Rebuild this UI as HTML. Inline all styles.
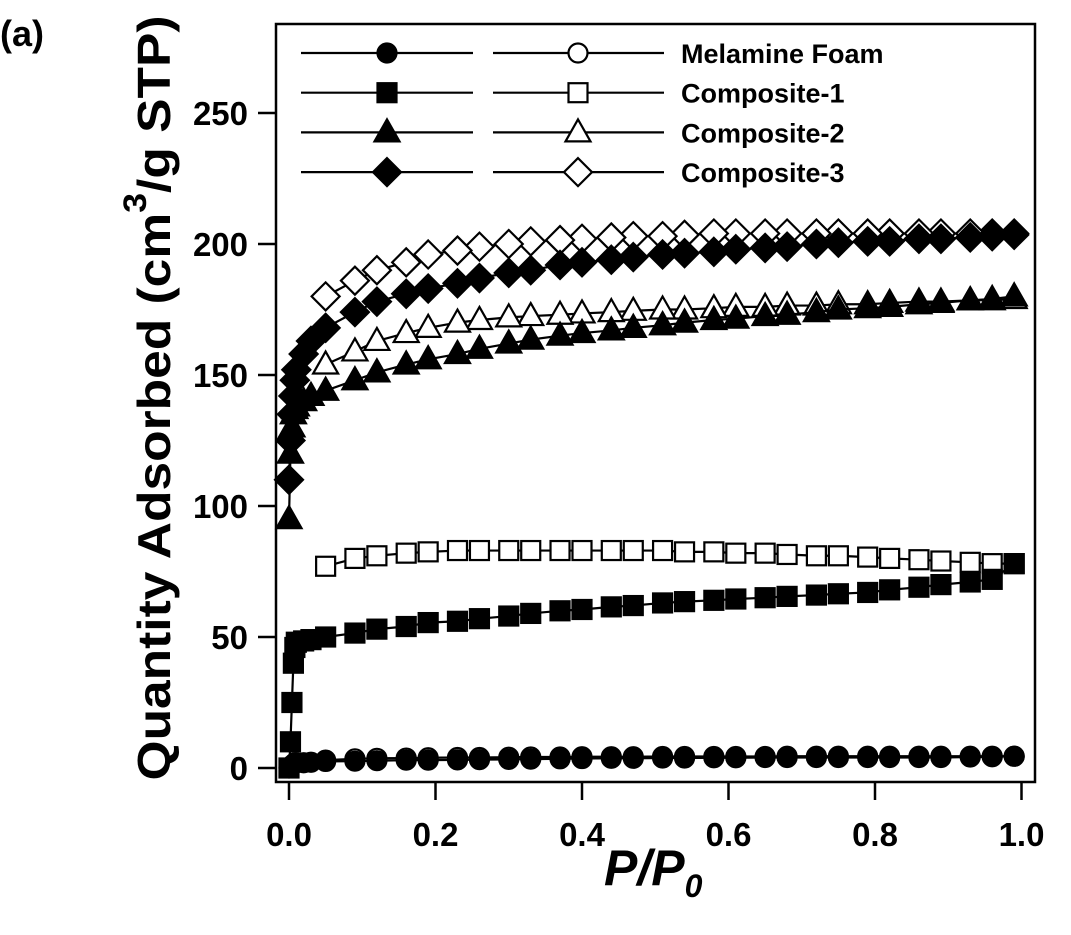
<!DOCTYPE html>
<html><head><meta charset="utf-8"><style>
html,body{margin:0;padding:0;background:#fff}
svg{display:block;font-family:"Liberation Sans",Arial,sans-serif}
</style></head><body>
<svg id="chart" width="1071" height="935" viewBox="0 0 1071 935" xmlns="http://www.w3.org/2000/svg">
<text x="0" y="46" font-size="36" font-weight="bold">(a)</text>
<rect x="276" y="24" width="759" height="758" fill="none" stroke="#000" stroke-width="2.5"/>
<g id="axes"></g>
<g id="series"></g>
<g id="legend"></g>
<text transform="translate(170,398) rotate(-90)" text-anchor="middle" font-size="46" font-weight="bold" textLength="765" lengthAdjust="spacingAndGlyphs">Quantity Adsorbed (cm<tspan dy="-24" font-size="32">3</tspan><tspan dy="24">/g STP)</tspan></text>
<text x="604" y="885" font-size="50" font-weight="bold" font-style="italic">P/P<tspan dy="12" font-size="32">0</tspan></text>
</svg>
<script>
const xTicks=[0,0.2,0.4,0.6,0.8,1.0];
const xTickLabels=["0.0","0.2","0.4","0.6","0.8","1.0"];
const yTicks=[0,50,100,150,200,250];
const yTickLabels=["0","50","100","150","200","250"];
const adsX=[0,0.002,0.004,0.006,0.008,0.01,0.02,0.03,0.05,0.09,0.12,0.16,0.19,0.23,0.26,0.30,0.33,0.37,0.40,0.44,0.47,0.51,0.54,0.58,0.61,0.65,0.68,0.72,0.75,0.79,0.82,0.86,0.89,0.93,0.96,0.99];
const desX=[0.99,0.96,0.93,0.89,0.86,0.82,0.79,0.75,0.72,0.68,0.65,0.61,0.58,0.54,0.51,0.47,0.44,0.40,0.37,0.33,0.30,0.26,0.23,0.19,0.16,0.12,0.09,0.05];
const melAds=[0,0.5,1,1.5,2,2,2,2.2,2.5,2.6,2.8,3,3,3.1,3.2,3.3,3.4,3.5,3.6,3.7,3.7,3.8,3.8,3.9,3.9,4,4,4,4,4,4,4,4,4.2,4.3,4.5];
const melDes=[4.5,4.5,4.5,4.5,4.5,4.5,4.5,4.5,4.5,4.5,4.4,4.4,4.4,4.4,4.4,4.3,4.3,4.3,4.2,4.2,4.1,4,4,3.9,3.8,3.7,3.5,3];
const c1Ads=[0,10,25,40,46,48,48.5,49,50,51.5,53,54,55.5,56,57,58,59,60,60.5,61.5,62,63,63.5,64,64.5,65,65.5,66,66.5,67,68,69,70,71,72,78];
const c1Des=[78,78,78.5,79,79.5,80,80.5,81,81,81.5,82,82,82.5,82.5,83,83,83,83,83,83,83,83,83,82.5,82,81,80,77];
const c2Ads=[95,120,130,135,137,138,140,142,144,148,151,154,156,158,160,162,163.5,165,166,167,168,169,170,171,171.5,172.5,173,174,175,175.5,176,177,177.5,178.5,179,180];
const c2Des=[179,178.5,178.5,178,178,177.5,177,177,176.5,176.5,176,176,175.5,175,175,174.5,174,173.5,173,172.5,172,171,170,168,166,163,159,154];
const c3Ads=[110,125,135,142,148,152,158,163,168,174,178,181,183,185,187,189,190,192,193,194,195,196,196.5,197,198,198.5,199,200,200.5,201,201,202,202,202.5,203,203.5];
const c3Des=[204,204,204,204,204,204,204,204,204,204,204,204,204,203.5,203,203,202.5,202,201.5,201,200,199,197.5,196,193,190,186,180];
const seriesNames=["Melamine Foam","Composite-1","Composite-2","Composite-3"];

const NS="http://www.w3.org/2000/svg";
function X(v){return 289+v*732.5;}
function Y(v){return 768-v*2.62;}
function mk(tag,attrs,parent){const e=document.createElementNS(NS,tag);for(const k in attrs)e.setAttribute(k,attrs[k]);parent.appendChild(e);return e;}
const axes=document.getElementById('axes');
xTicks.forEach((t,i)=>{
  const l=mk('line',{x1:X(t),x2:X(t),y1:782,y2:800,stroke:'#000','stroke-width':2.5},axes);
  
  
  const tx=mk('text',{x:X(t),y:846,'text-anchor':'middle','font-size':33,'font-weight':'bold'},axes);
  tx.textContent=xTickLabels[i];
  
  
});
yTicks.forEach((t,i)=>{
  const l=mk('line',{x1:258,x2:276,y1:Y(t),y2:Y(t),stroke:'#000','stroke-width':2.5},axes);
  
  
  const tx=mk('text',{x:248,y:Y(t)+12,'text-anchor':'end','font-size':33,'font-weight':'bold'},axes);
  tx.textContent=yTickLabels[i];
  
  
});
function marker(shape,filled,cx,cy,parent){
  const f=filled?'#000':'#fff';const st={fill:f,stroke:'#000','stroke-width':2.2};
  let e;
  if(shape==='circle')e=mk('circle',Object.assign({cx:cx,cy:cy,r:9.5},st),parent);
  else if(shape==='square')e=mk('rect',Object.assign({x:cx-9.5,y:cy-9.5,width:19,height:19},st),parent);
  else if(shape==='triangle')e=mk('polygon',Object.assign({points:`${cx},${cy-13} ${cx+12.5},${cy+9} ${cx-12.5},${cy+9}`},st),parent);
  else e=mk('polygon',Object.assign({points:`${cx},${cy-14} ${cx+14},${cy} ${cx},${cy+14} ${cx-14},${cy}`},st),parent);
  return e;
}
const sg=document.getElementById('series');
const shapes=['circle','square','triangle','diamond'];
const data=[[melAds,melDes],[c1Ads,c1Des],[c2Ads,c2Des],[c3Ads,c3Des]];
data.forEach((d,si)=>{
  [[desX,d[1],false],[adsX,d[0],true]].forEach(([xs,ys,filled])=>{
    const g=mk('g',{},sg);
    
    
    const pts=xs.map((x,i)=>X(x)+','+Y(ys[i])).join(' ');
    const pl=mk('polyline',{points:pts,fill:'none',stroke:'#000','stroke-width':2.2},g);
    
    
    xs.forEach((x,i)=>{
      const m=marker(shapes[si],filled,X(x),Y(ys[i]),g);
      
      
    });
  });
});
const lg=document.getElementById('legend');
seriesNames.forEach((n,i)=>{
  const y=53+i*39.7;
  const g=mk('g',{},lg);
  
  
  mk('line',{x1:301,x2:473,y1:y,y2:y,stroke:'#000','stroke-width':2.2},g);
  marker(shapes[i],true,387,y,g);
  mk('line',{x1:493,x2:664,y1:y,y2:y,stroke:'#000','stroke-width':2.2},g);
  marker(shapes[i],false,578,y,g);
  const t=mk('text',{x:681,y:y+10,'font-size':27,'font-weight':'bold'},g);
  t.textContent=n;
});
</script>
</body></html>
